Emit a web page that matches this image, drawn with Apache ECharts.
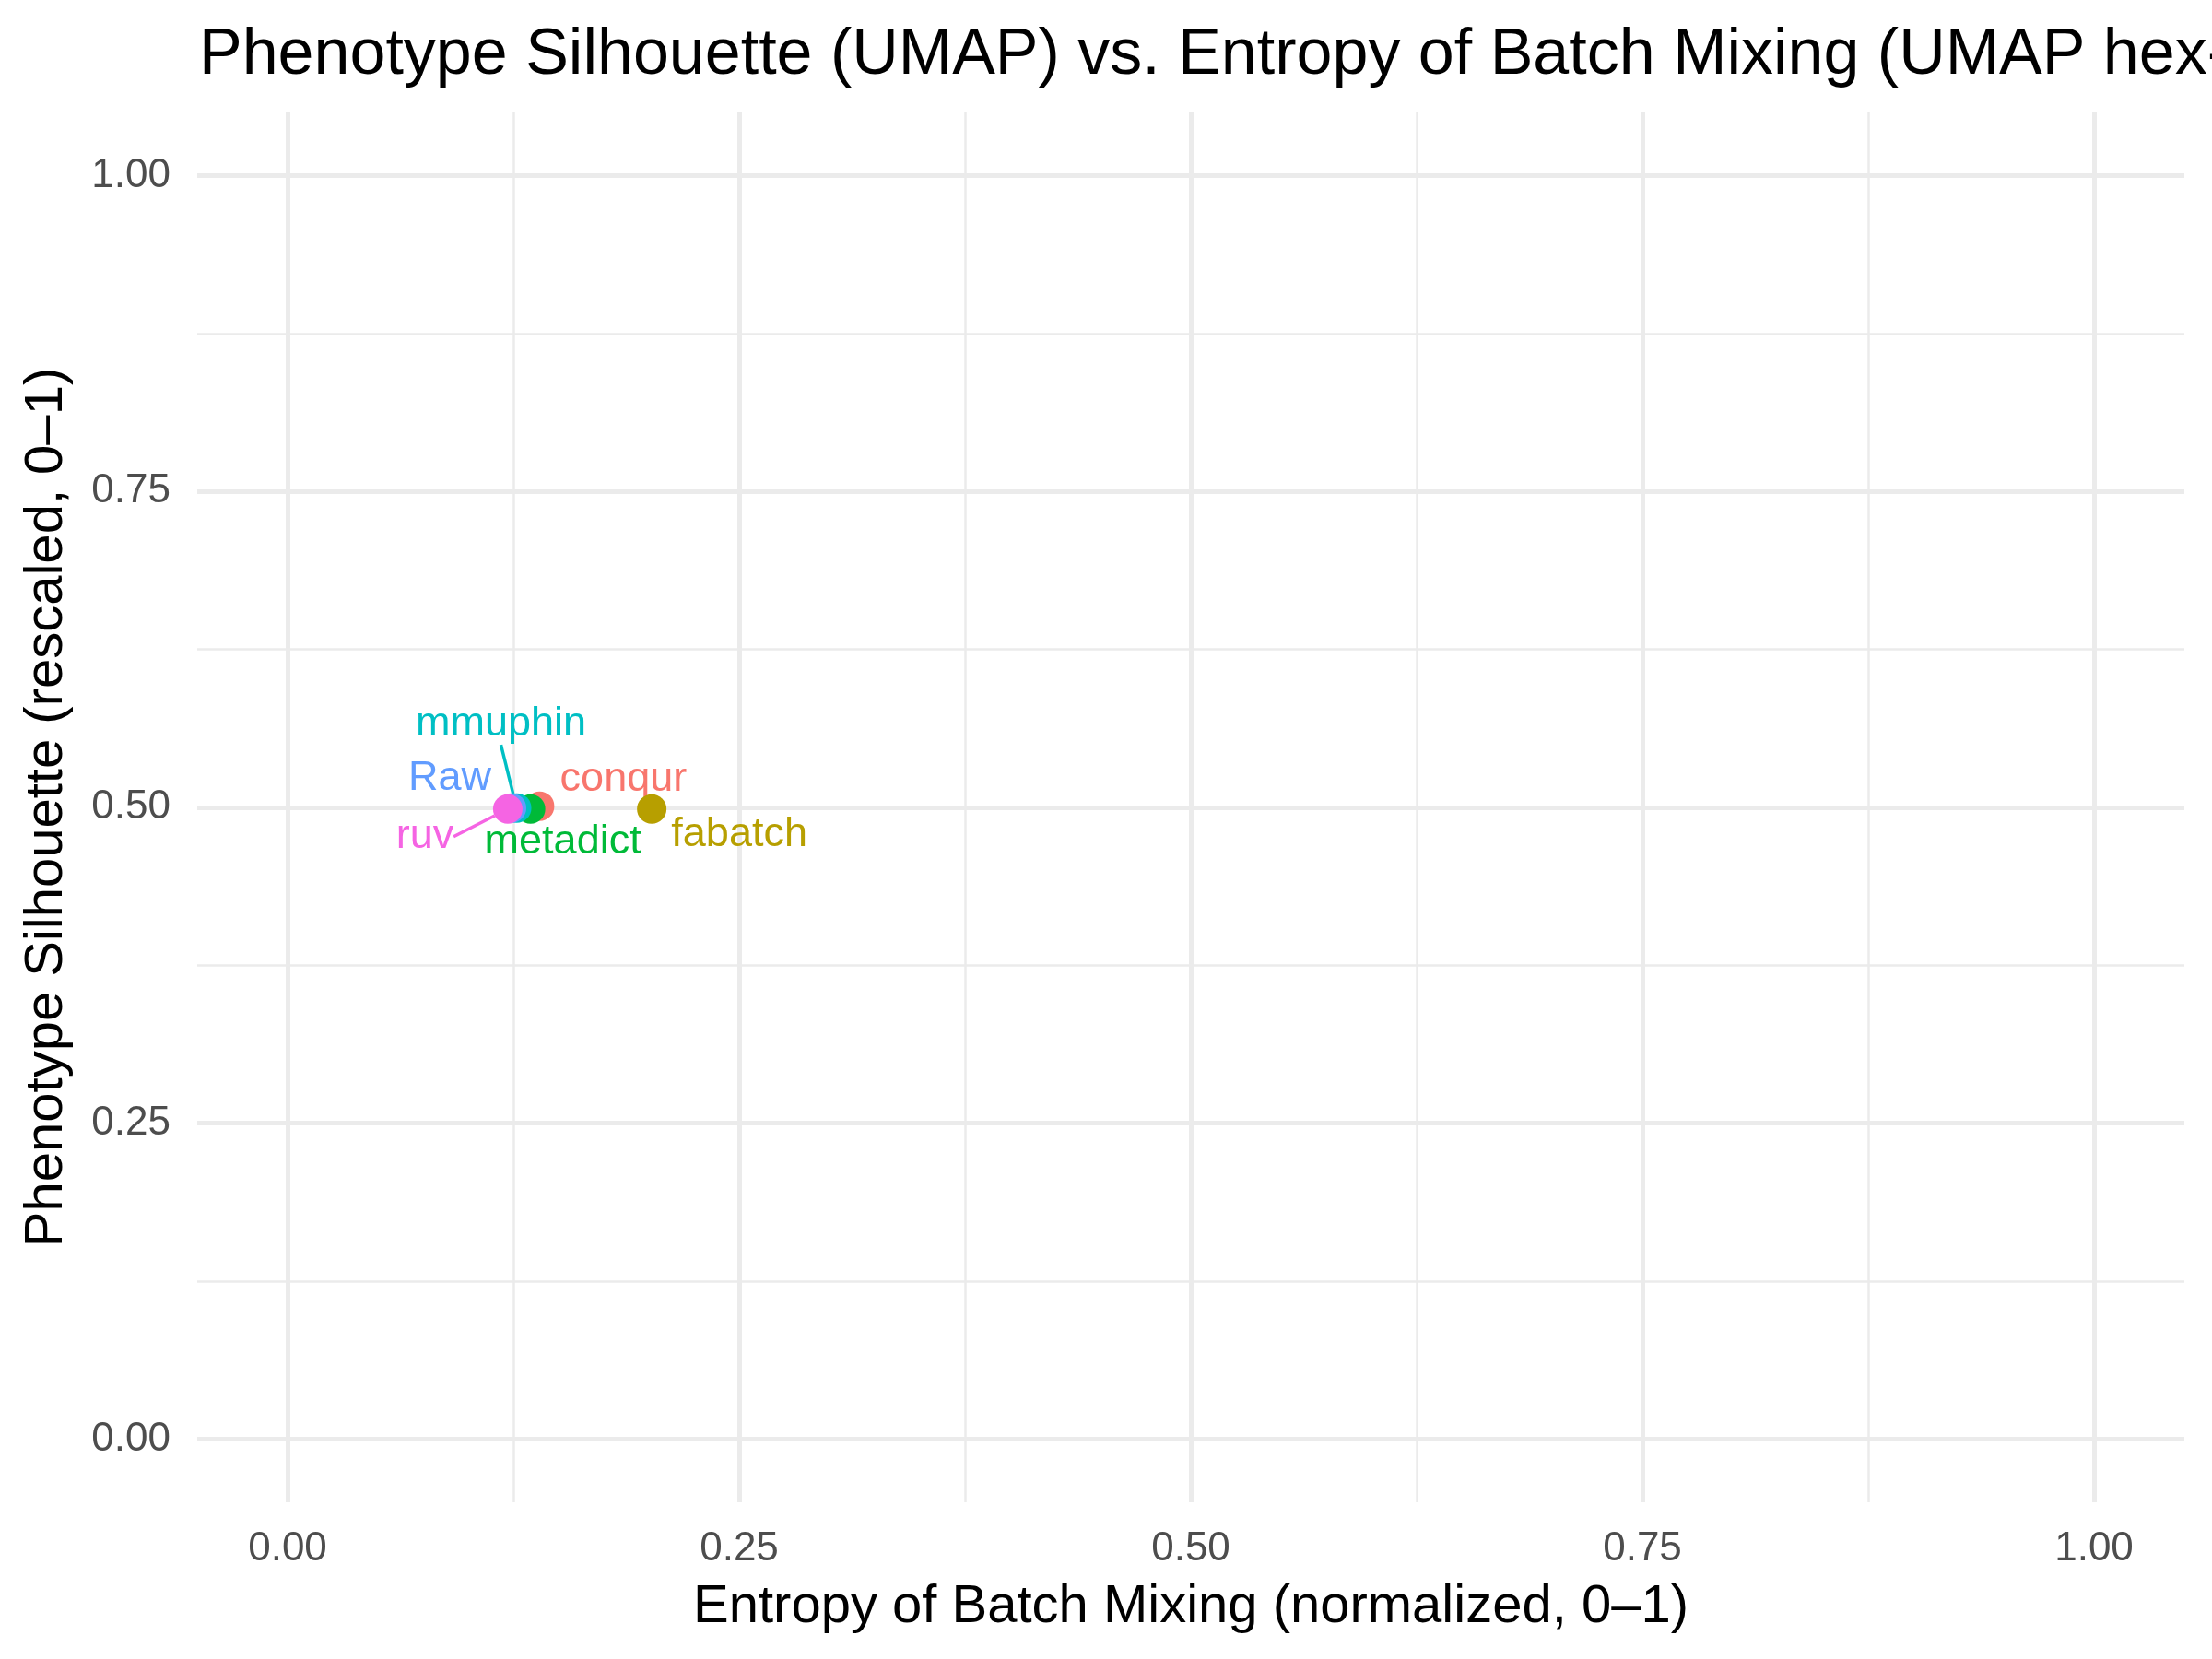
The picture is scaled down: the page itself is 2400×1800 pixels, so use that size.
<!DOCTYPE html>
<html>
<head>
<meta charset="utf-8">
<script src="https://cdn.jsdelivr.net/npm/echarts@6/dist/echarts.min.js"></script>
<style>
html,body{margin:0;padding:0;background:#fff;}
#chart{width:2400px;height:1800px;}
</style>
</head>
<body>
<div id="chart"></div>
<script>
// ---- data ----
const methods = ['conqur', 'fabatch', 'metadict', 'mmuphin', 'Raw', 'ruv'];
const entropy = [0.1395, 0.2016, 0.1345, 0.1268, 0.124, 0.1219];
const silhouette = [0.501, 0.4987, 0.4987, 0.4995, 0.4995, 0.4987];
const majorTicks = [0, 0.25, 0.5, 0.75, 1];
const minorTicks = [0.125, 0.375, 0.625, 0.875];
const titleText = 'Phenotype Silhouette (UMAP) vs. Entropy of Batch Mixing (UMAP hex-';
const xTitle = 'Entropy of Batch Mixing (normalized, 0\u20131)';
const yTitle = 'Phenotype Silhouette (rescaled, 0\u20131)';

// ---- styling ----
const colors = {conqur:'#F8766D', fabatch:'#B79F00', metadict:'#00BA38', mmuphin:'#00BFC4', Raw:'#619CFF', ruv:'#F564E3'};
const labelShift = {
  conqur:[91,-29], fabatch:[95,28], metadict:[35,36], mmuphin:[-17,-91], Raw:[-67,-32], ruv:[-90,30]
};
const withLine = {mmuphin:true, ruv:true};
const FONT = '"Liberation Sans", Arial, Helvetica, sans-serif';

const chart = echarts.init(document.getElementById('chart'), null, {renderer:'canvas'});

function axisPair(isX) {
  const base = {
    type:'value', min:-0.05, max:1.05,
    position: isX ? 'bottom' : 'left',
    axisLine:{show:false}
  };
  const minor = Object.assign({}, base, {
    gridIndex:0,
    axisTick:{show:false, customValues:minorTicks},
    axisLabel:{show:false},
    splitLine:{show:true, lineStyle:{color:'#EBEBEB', width:2.5}}
  });
  const major = Object.assign({}, base, {
    gridIndex:0,
    axisTick:{show:false, customValues:majorTicks},
    axisLabel:{
      show:true, customValues:majorTicks, color:'#4D4D4D', fontSize:44, fontFamily:FONT,
      margin: isX ? 29 : 29,
      padding: isX ? 0 : [5, 0, 0, 0],
      formatter: v => v.toFixed(2)
    },
    splitLine:{show:true, lineStyle:{color:'#EBEBEB', width:5}},
    name: isX ? xTitle : yTitle,
    nameLocation:'middle',
    nameGap: isX ? 85 : 134,
    nameTextStyle:{color:'#000', fontSize:58, fontFamily:FONT}
  });
  return [minor, major];
}

const series = methods.map((m, i) => ({
  type:'scatter',
  name:m,
  xAxisIndex:1, yAxisIndex:1,
  symbol:'circle', symbolSize:32,
  itemStyle:{color:colors[m], opacity:1},
  data:[[entropy[i], silhouette[i]]],
  label:{
    show:true, position:'inside', formatter:m,
    color:colors[m], fontSize:45, fontFamily:FONT
  },
  labelLayout:{dx:labelShift[m][0], dy:labelShift[m][1]},
  labelLine:{show:!!withLine[m], lineStyle:{color:colors[m], width:3.5}, smooth:false, length2:0},
  emphasis:{disabled:true},
  z: 2 + i
}));

chart.setOption({
  backgroundColor:'#fff',
  animation:false,
  title:{
    text:titleText, left:211, top:21,
    textStyle:{color:'#000', fontSize:70, fontWeight:'normal', fontFamily:FONT}
  },
  grid:{left:214, right:30, top:122, bottom:170, containLabel:false, outerBoundsMode:'none'},
  xAxis: axisPair(true),
  yAxis: axisPair(false),
  series: series
});
</script>
</body>
</html>
